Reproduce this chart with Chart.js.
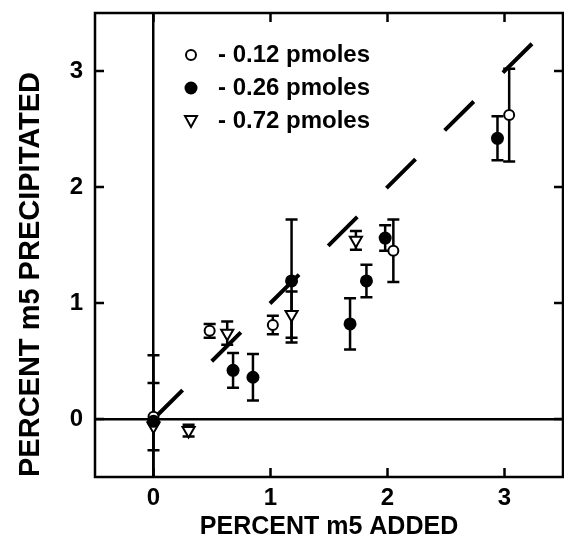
<!DOCTYPE html>
<html>
<head>
<meta charset="utf-8">
<script src="https://cdn.jsdelivr.net/npm/chart.js@4"></script>
<style>body{margin:0;background:#fff;overflow:hidden}canvas{display:block}</style>
</head>
<body>
<canvas id="myChart" width="564" height="550"></canvas>
<script>
const xTicks = [0, 1, 2, 3];
const yTicks = [0, 1, 2, 3];
const seriesNames = ['- 0.12 pmoles', '- 0.26 pmoles', '- 0.72 pmoles'];

// 0.12 pmoles (open circles)
const openX = [0, 0.48, 1.02, 2.05, 3.04];
const openY = [0.02, 0.76, 0.81, 1.45, 2.62];
const openErr = [0.29, 0.06, 0.08, 0.27, 0.4];

// 0.26 pmoles (filled circles)
const fillX = [0, 0.68, 0.85, 1.18, 1.68, 1.82, 1.98, 2.94];
const fillY = [-0.02, 0.42, 0.36, 1.19, 0.82, 1.19, 1.56, 2.42];
const fillErr = [0.57, 0.15, 0.2, 0.53, 0.22, 0.14, 0.11, 0.19];

// 0.72 pmoles (open triangles, pointing down)
const triX = [0, 0.3, 0.63, 1.18, 1.73];
const triY = [-0.06, -0.1, 0.74, 0.9, 1.54];
const triErr = [0, 0.05, 0.1, 0.2, 0.08];

// dashed y = x line
const lineX = [0, 3.25];

const FONT = "'Liberation Sans', Arial, sans-serif";
const pts = (xs, ys) => xs.map((v, i) => ({x: v, y: ys[i]}));

const errorBars = {
    id: 'errorBars',
    beforeDatasetsDraw(chart) {
        const {ctx, chartArea: a, scales: {x, y}} = chart;
        ctx.save();
        ctx.beginPath();
        ctx.rect(a.left, a.top, a.right - a.left, a.bottom - a.top);
        ctx.clip();
        ctx.strokeStyle = '#000';
        ctx.lineWidth = 2.5;
        chart.data.datasets.forEach(ds => {
            if (!ds.errors) return;
            ds.data.forEach((p, i) => {
                const e = ds.errors[i];
                if (!e) return;
                const px = x.getPixelForValue(p.x);
                const top = y.getPixelForValue(p.y + e);
                const bot = y.getPixelForValue(p.y - e);
                ctx.beginPath();
                ctx.moveTo(px, top); ctx.lineTo(px, bot);
                ctx.moveTo(px - 6, top); ctx.lineTo(px + 6, top);
                ctx.moveTo(px - 6, bot); ctx.lineTo(px + 6, bot);
                ctx.stroke();
            });
        });
        ctx.restore();
    }
};

const frame = {
    id: 'frame',
    afterDraw(chart) {
        const {ctx, chartArea: a, scales: {x, y}} = chart;
        ctx.save();
        ctx.strokeStyle = '#000';
        ctx.lineWidth = 2.5;
        ctx.strokeRect(a.left, a.top, a.right - a.left, a.bottom - a.top);
        ctx.beginPath();
        xTicks.forEach(v => {
            const px = x.getPixelForValue(v);
            ctx.moveTo(px, a.bottom); ctx.lineTo(px, a.bottom - 9);
            ctx.moveTo(px, a.top); ctx.lineTo(px, a.top + 9);
        });
        yTicks.forEach(v => {
            const py = y.getPixelForValue(v);
            ctx.moveTo(a.left, py); ctx.lineTo(a.left + 9, py);
            ctx.moveTo(a.right, py); ctx.lineTo(a.right - 9, py);
        });
        ctx.stroke();

        // legend in the upper left
        const rows = [55, 88, 121];
        ctx.font = 'bold 24px ' + FONT;
        ctx.fillStyle = '#000';
        ctx.textBaseline = 'middle';
        rows.forEach((ry, i) => {
            const mx = 191;
            ctx.lineWidth = 2;
            ctx.beginPath();
            if (i === 0) {
                ctx.arc(mx, ry, 5, 0, Math.PI * 2);
                ctx.stroke();
            } else if (i === 1) {
                ctx.arc(mx, ry, 6.5, 0, Math.PI * 2);
                ctx.fill();
            } else {
                ctx.moveTo(mx - 6, ry - 5);
                ctx.lineTo(mx + 6, ry - 5);
                ctx.lineTo(mx, ry + 6);
                ctx.closePath();
                ctx.stroke();
            }
            ctx.fillText(seriesNames[i], 218, ry);
        });
        ctx.restore();
    }
};

const ctx = document.getElementById('myChart').getContext('2d');
const myChart = new Chart(ctx, {
    type: 'scatter',
    data: {
        datasets: [{
            label: 'fit',
            type: 'line',
            data: pts(lineX, lineX),
            borderColor: '#000',
            borderWidth: 4,
            borderDash: [41, 41],
            pointRadius: 0,
            fill: false,
            order: 4
        }, {
            label: seriesNames[0],
            data: pts(openX, openY),
            errors: openErr,
            pointStyle: 'circle',
            pointRadius: 5,
            borderWidth: 2,
            borderColor: '#000',
            backgroundColor: '#fff',
            order: 3
        }, {
            label: seriesNames[2],
            data: pts(triX, triY),
            errors: triErr,
            pointStyle: 'triangle',
            rotation: 180,
            pointRadius: 7,
            borderWidth: 2,
            borderColor: '#000',
            backgroundColor: '#fff',
            order: 2
        }, {
            label: seriesNames[1],
            data: pts(fillX, fillY),
            errors: fillErr,
            pointStyle: 'circle',
            pointRadius: 6.5,
            borderWidth: 0,
            borderColor: '#000',
            backgroundColor: '#000',
            order: 1
        }]
    },
    options: {
        responsive: false,
        animation: false,
        layout: {autoPadding: false, padding: {top: 13, right: 1, left: 0, bottom: 0}},
        plugins: {legend: {display: false}, tooltip: {enabled: false}},
        scales: {
            x: {
                type: 'linear',
                min: -0.5,
                max: 3.5,
                afterBuildTicks: s => { s.ticks = xTicks.map(v => ({value: v})); },
                afterFit: s => { s.height = 73; s.paddingLeft = 0; s.paddingRight = 0; },
                border: {display: false},
                grid: {
                    drawTicks: false,
                    lineWidth: 2.5,
                    color: c => c.tick && c.tick.value === 0 ? '#000' : 'rgba(0,0,0,0)'
                },
                ticks: {
                    color: '#000',
                    padding: 7,
                    font: {family: FONT, size: 24, weight: 'bold'}
                },
                title: {
                    display: true,
                    text: 'PERCENT m5 ADDED',
                    color: '#000',
                    padding: {bottom: 8},
                    font: {family: FONT, size: 25, weight: 'bold'}
                }
            },
            y: {
                type: 'linear',
                min: -0.5,
                max: 3.5,
                afterBuildTicks: s => { s.ticks = yTicks.map(v => ({value: v})); },
                afterFit: s => { s.width = 95; s.paddingTop = 0; s.paddingBottom = 0; },
                border: {display: false},
                grid: {
                    drawTicks: false,
                    lineWidth: 2.5,
                    color: c => c.tick && c.tick.value === 0 ? '#000' : 'rgba(0,0,0,0)'
                },
                ticks: {
                    color: '#000',
                    padding: 12,
                    font: {family: FONT, size: 24, weight: 'bold'}
                },
                title: {
                    display: true,
                    text: 'PERCENT m5 PRECIPITATED',
                    color: '#000',
                    align: 'start',
                    padding: {top: 14},
                    font: {family: FONT, size: 29, weight: 'bold'}
                }
            }
        }
    },
    plugins: [errorBars, frame]
});
</script>
</body>
</html>
